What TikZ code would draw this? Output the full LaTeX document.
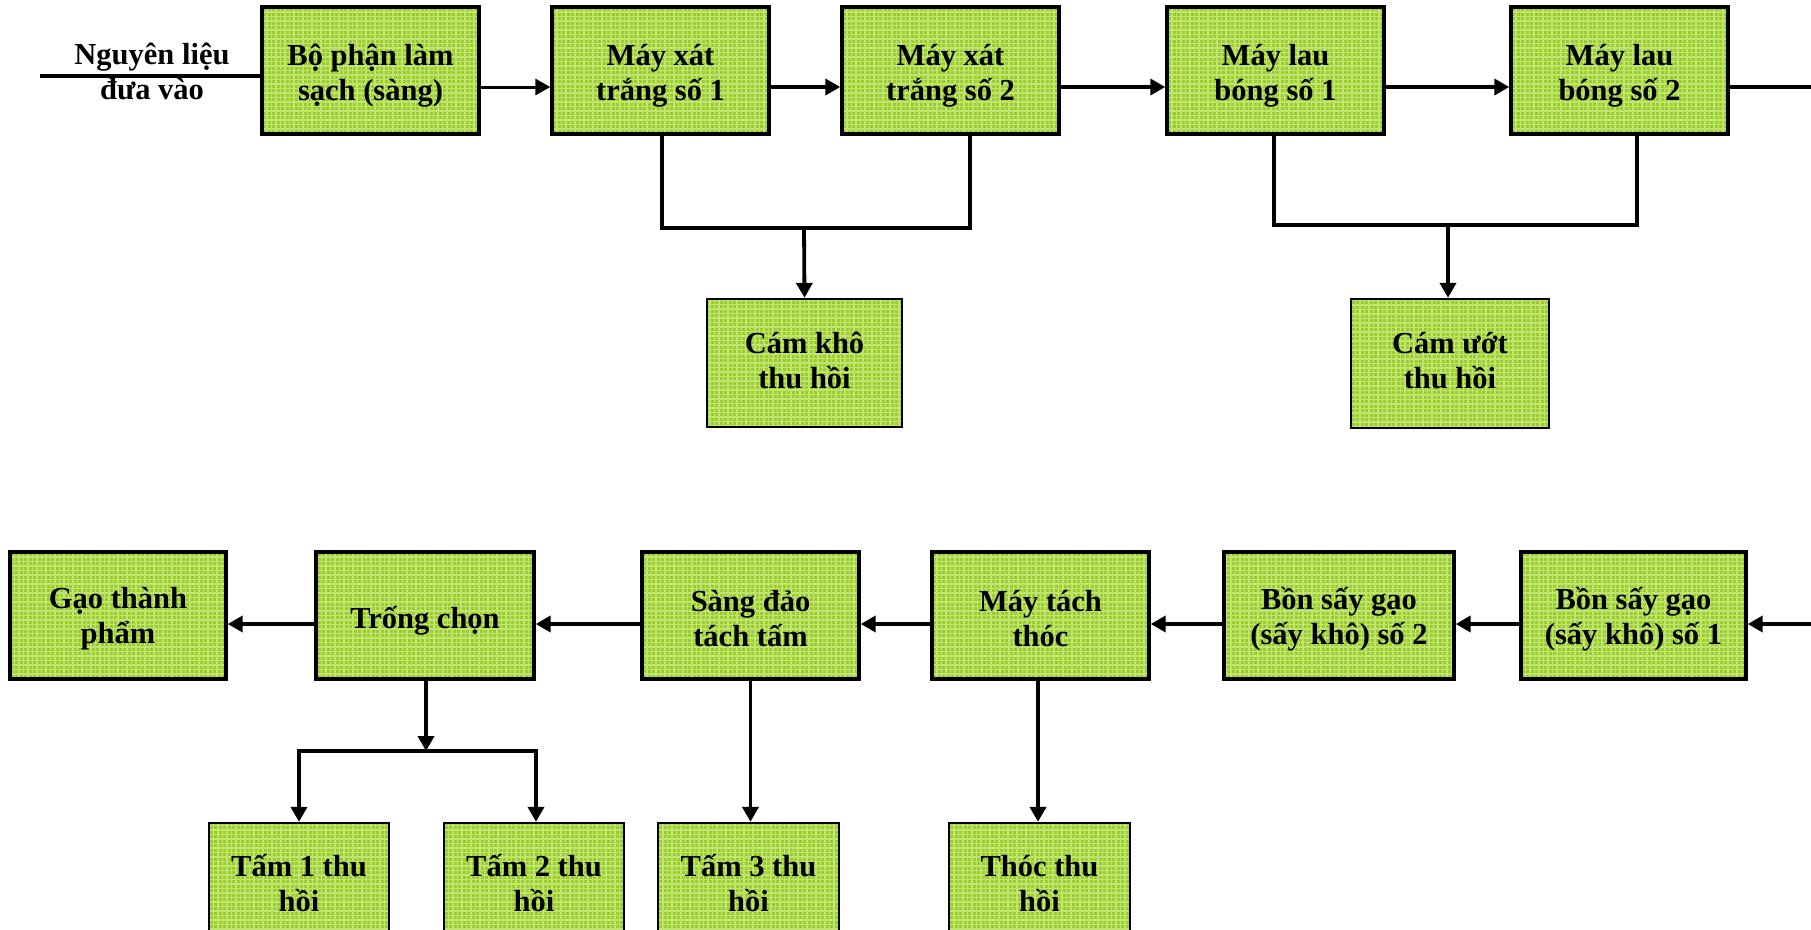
\documentclass[tikz,border=0pt]{standalone}
\usepackage{fontspec}
\setmainfont{Liberation Serif}
\usetikzlibrary{arrows.meta,calc}
\definecolor{boxgreen}{RGB}{156,205,46}
\definecolor{gridgreen}{RGB}{192,228,112}
\begin{document}
\begin{tikzpicture}[x=1pt,y=1pt,
  box/.style={draw=black, line width=3.4pt, fill=boxgreen, inner sep=0pt,
    minimum width=217pt, minimum height=127pt,
    path picture={\draw[gridgreen, line width=1.1pt]
      (path picture bounding box.south west) grid[step=4.5pt]
      (path picture bounding box.north east);}},
  leaf/.style={box, line width=2.4pt},
  txt/.style={align=center, font=\bfseries\fontsize{30.5}{35}\selectfont, inner sep=0pt},
  conn/.style={line width=3.8pt},
  arr/.style={conn, -{Triangle[length=15pt,width=16pt]}}]
\clip (0,0) rectangle (1811,-929);
% top row
\node[box] (b1) at (370.5,-70.5) {};
\node[box] (b2) at (660.5,-70.5) {};
\node[box] (b3) at (950.5,-70.5) {};
\node[box] (b4) at (1275.5,-70.5) {};
\node[box] (b5) at (1619.5,-70.5) {};
\node[leaf, minimum width=195pt, minimum height=128pt] (ck) at (804.5,-363) {};
\node[leaf, minimum width=198pt, minimum height=129pt] (cu) at (1450,-363.5) {};
% bottom row
\node[box, minimum width=216pt] (g) at (118,-615.5) {};
\node[box, minimum width=218pt] (tc) at (425,-615.5) {};
\node[box] (sd) at (750.5,-615.5) {};
\node[box] (mt) at (1040.5,-615.5) {};
\node[box, minimum width=230pt] (bs2) at (1339,-615.5) {};
\node[box, minimum width=225pt] (bs1) at (1633.5,-615.5) {};
\node[leaf, minimum width=180pt, minimum height=122pt] (t1) at (299,-884) {};
\node[leaf, minimum width=180pt, minimum height=122pt] (t2) at (534,-884) {};
\node[leaf, minimum width=181pt, minimum height=122pt] (t3) at (748.5,-884) {};
\node[leaf, minimum width=181pt, minimum height=122pt] (th) at (1039.5,-884) {};
% texts
\node[txt] (nl) at (152,-71.5) {Nguyên liệu\\đưa vào};
\node[txt] (b1t) at ([yshift=-5pt]b1.center) {Bộ phận làm\\sạch (sàng)};
\node[txt] (b2t) at ([yshift=-5pt]b2.center) {Máy xát\\trắng số 1};
\node[txt] (b3t) at ([yshift=-5pt]b3.center) {Máy xát\\trắng số 2};
\node[txt] (b4t) at ([yshift=-5pt]b4.center) {Máy lau\\bóng số 1};
\node[txt] (b5t) at ([yshift=-5pt]b5.center) {Máy lau\\bóng số 2};
\node[txt] (ckt) at ([yshift=2.5pt]ck.center) {Cám khô\\thu hồi};
\node[txt] (cut) at ([yshift=3pt]cu.center) {Cám ướt\\thu hồi};
\node[txt] (gt) at ([yshift=-3.5pt]g.center) {Gạo thành\\phẩm};
\node[txt] (tct) at ([yshift=-5.5pt]tc.center) {Trống chọn};
\node[txt] (sdt) at ([yshift=-3.5pt]sd.center) {Sàng đảo\\tách tấm};
\node[txt] (mtt) at ([yshift=-3.5pt]mt.center) {Máy tách\\thóc};
\node[txt] (bs2t) at ([yshift=-3.5pt]bs2.center) {Bồn sấy gạo\\(sấy khô) số 2};
\node[txt] (bs1t) at ([yshift=-3.5pt]bs1.center) {Bồn sấy gạo\\(sấy khô) số 1};
\node[txt] (t1t) at ([yshift=1pt]t1.center) {Tấm 1 thu\\hồi};
\node[txt] (t2t) at ([yshift=1pt]t2.center) {Tấm 2 thu\\hồi};
\node[txt] (t3t) at ([yshift=1pt]t3.center) {Tấm 3 thu\\hồi};
\node[txt] (tht) at (th.center) {Thóc thu\\hồi};
% coordinates
\coordinate (inL) at (40,-76);
\coordinate (outR) at (1811,-87);
\coordinate (inR) at (1811,-624);
\coordinate (j1) at (804,-228);
\coordinate (j2) at (1448,-225);
\coordinate (j3) at (426,-751);
% top connectors
\draw[line width=3.4pt] (inL) -- (inL -| b1.west);
\draw[arr, line width=3pt] ([yshift=-16.5pt]b1.east) -- ([yshift=-16.5pt]b2.west);
\draw[arr] ([yshift=-16.5pt]b2.east) -- ([yshift=-16.5pt]b3.west);
\draw[arr] ([yshift=-16.5pt]b3.east) -- ([yshift=-16.5pt]b4.west);
\draw[arr] ([yshift=-16.5pt]b4.east) -- ([yshift=-16.5pt]b5.west);
\draw[conn] ([yshift=-16.5pt]b5.east) -- (outR);
\draw[conn, line width=3.4pt] ([xshift=1.5pt]b2.south) |- (j1) -| ([xshift=19.5pt]b3.south);
\draw[arr] (j1) -- (ck.north);
\draw[conn, line width=3.4pt] ([xshift=-1.5pt]b4.south) |- (j2) -| ([xshift=17.5pt]b5.south);
\draw[arr] (j2) -- (j2 |- cu.north);
% bottom connectors
\draw[arr] (inR) -- (inR -| bs1.east);
\draw[arr] ([yshift=-8.5pt]bs1.west) -- ([yshift=-8.5pt]bs2.east);
\draw[arr] ([yshift=-8.5pt]bs2.west) -- ([yshift=-8.5pt]mt.east);
\draw[arr] ([yshift=-8.5pt]mt.west) -- ([yshift=-8.5pt]sd.east);
\draw[arr] ([yshift=-8.5pt]sd.west) -- ([yshift=-8.5pt]tc.east);
\draw[arr] ([yshift=-8.5pt]tc.west) -- ([yshift=-8.5pt]g.east);
\draw[arr] (tc.south -| j3) -- (j3);
\draw[arr] (j3) -| (t1.north);
\draw[arr] (j3) -| ([xshift=2pt]t2.north);
\draw[arr] (sd.south) -- (sd.south |- t3.north);
\draw[arr] ([xshift=-2.5pt]mt.south) -- ([xshift=-2.5pt]mt.south |- th.north);
\end{tikzpicture}
\end{document}
